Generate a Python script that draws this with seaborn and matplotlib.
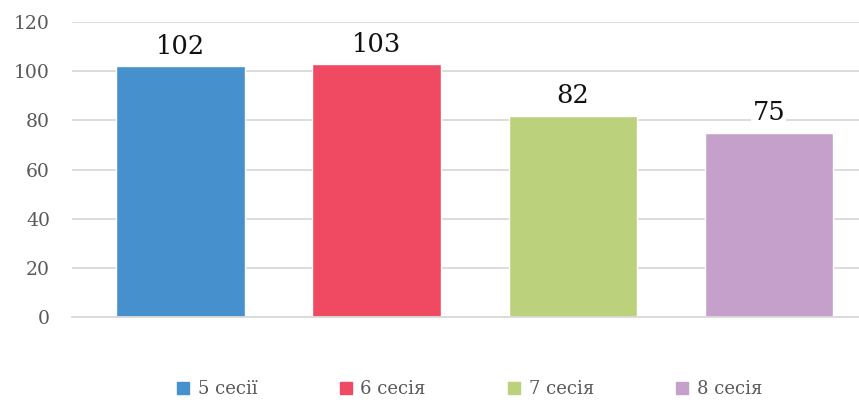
import matplotlib
matplotlib.use("Agg")
import matplotlib.pyplot as plt
import seaborn as sns
import pandas as pd
from matplotlib.lines import Line2D

# Data
sessions = ["5 сесії", "6 сесія", "7 сесія", "8 сесія"]
values = [102, 103, 82, 75]
colors = ["#4590CD", "#EF4A62", "#BBD17C", "#C4A0CB"]

df = pd.DataFrame({"session": sessions, "value": values})

sns.set_theme(style="white")
plt.rcParams["font.family"] = ["DejaVu Serif", "Liberation Serif"]

fig = plt.figure(figsize=(8.59, 4.03), dpi=100)
ax = fig.add_axes([0.084, 0.2134, 0.916, 0.7316])

sns.barplot(data=df, x="session", y="value", hue="session", palette=colors,
            width=0.656, legend=False, ax=ax, saturation=1)

ax.set_ylim(0, 120)
ax.set_xlim(-0.554, 3.46)
ax.set_yticks(range(0, 121, 20))
ax.yaxis.grid(True, color="#d9d9d9", linewidth=1.3)
ax.set_axisbelow(True)
for s in ["top", "right", "left"]:
    ax.spines[s].set_visible(False)
ax.spines["bottom"].set_color("#d9d9d9")
ax.spines["bottom"].set_linewidth(1.3)
ax.set_xticks([])
ax.set_xlabel("")
ax.set_ylabel("")
ax.tick_params(axis="y", labelsize=13.5, labelcolor="#595959", length=0, pad=16)

for i, v in enumerate(values):
    ax.text(i, v + 3, str(v), ha="center", va="bottom", fontsize=18.5, color="#111111",
            bbox=dict(facecolor="white", edgecolor="none", pad=1))

handles = [Line2D([], [], marker="s", linestyle="none", markersize=9,
                  markerfacecolor=c, markeredgecolor=c) for c in colors]
fig.legend(handles, sessions, loc="center", bbox_to_anchor=(0.545, 0.035), ncol=4,
           frameon=False, fontsize=13, labelcolor="#595959", handletextpad=0.3,
           columnspacing=4.4, handlelength=1.0)

plt.savefig("out.png", dpi=100)
